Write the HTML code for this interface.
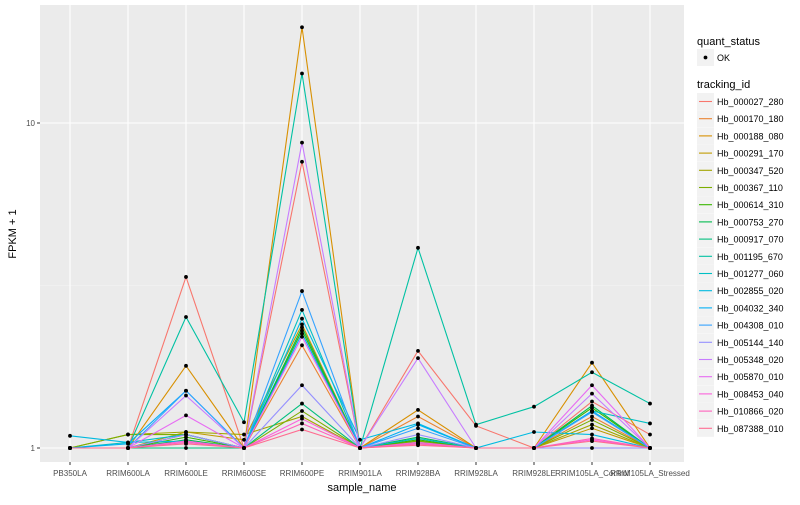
<!DOCTYPE html>
<html><head><meta charset="utf-8"><style>
body{margin:0;background:#fff;font-family:"Liberation Sans",sans-serif}
svg text{font-family:"Liberation Sans",sans-serif}
</style></head><body>
<svg id="chart" width="800" height="500" xmlns="http://www.w3.org/2000/svg">
<rect x="40" y="5" width="644" height="457" fill="#EBEBEB"/>
<g id="grid"></g><g id="lines"></g><g id="points"></g><g id="axes"></g><g id="legend"></g>
<text x="362" y="491" font-size="11" text-anchor="middle" fill="#000">sample_name</text>
<text x="16" y="234" font-size="11" text-anchor="middle" fill="#000" transform="rotate(-90 16 234)">FPKM + 1</text>
</svg>
<script>
const categories=["PB350LA","RRIM600LA","RRIM600LE","RRIM600SE","RRIM600PE","RRIM901LA","RRIM928BA","RRIM928LA","RRIM928LE","RRIM105LA_Control","RRIM105LA_Stressed"];
const seriesNames=["Hb_000027_280","Hb_000170_180","Hb_000188_080","Hb_000291_170","Hb_000347_520","Hb_000367_110","Hb_000614_310","Hb_000753_270","Hb_000917_070","Hb_001195_670","Hb_001277_060","Hb_002855_020","Hb_004032_340","Hb_004308_010","Hb_005144_140","Hb_005348_020","Hb_005870_010","Hb_008453_040","Hb_010866_020","Hb_087388_010"];
const colors=["#F8766D","#EA8331","#D89000","#C09B00","#A3A500","#7CAE00","#39B600","#00BB4E","#00BF7D","#00C1A3","#00BFC4","#00BAE0","#00B0F6","#35A2FF","#9590FF","#C77CFF","#E76BF3","#FA62DB","#FF62BC","#FF6C91"];
const s01=[1,1,3.36,1,7.6,1,1.99,1.17,1,1.39,1.10];
const s02=[1,1,1.1,1,2.07,1,1.25,1,1,1.25,1];
const s03=[1,1,1.79,1,19.7,1,1.31,1,1,1.83,1];
const s04=[1,1,1.12,1.06,2.4,1,1.05,1,1,1.15,1];
const s05=[1,1.10,1.12,1.10,1.25,1,1.03,1,1,1.18,1];
const s06=[1,1.1,1.1,1,1.3,1,1.05,1,1,1.22,1];
const s07=[1,1,1.08,1,2.3,1,1.06,1,1,1.33,1];
const s08=[1,1,1.06,1,2.35,1,1.08,1,1,1.35,1];
const s09=[1,1,1,1,1.37,1,1.04,1,1,1.3,1];
const s10=[1,1,2.53,1.2,14.2,1,4.13,1.18,1.34,1.71,1.37];
const s11=[1,1.04,1.1,1,2.66,1,1.07,1,1,1.3,1.19];
const s12=[1.09,1.04,1.05,1,2.5,1.06,1.19,1,1.12,1.10,1];
const s13=[1,1.03,1.5,1,2.25,1,1.18,1,1,1.30,1];
const s14=[1,1,1.5,1,3.04,1,1.15,1,1,1.29,1];
const s15=[1,1,1.1,1,1.56,1,1.1,1,1,1,1];
const s16=[1,1,1.45,1,8.7,1,1.89,1,1,1.47,1];
const s17=[1,1,1.26,1,2.2,1,1.03,1,1,1.56,1];
const s18=[1,1,1.05,1,1.23,1,1.04,1,1,1.06,1];
const s19=[1,1,1.04,1,1.19,1,1.03,1,1,1.07,1];
const s20=[1,1,1.03,1,1.14,1,1.02,1,1,1.05,1];
const seriesValues=[s01,s02,s03,s04,s05,s06,s07,s08,s09,s10,s11,s12,s13,s14,s15,s16,s17,s18,s19,s20];
const yTicks=[1,10];
const yTickLabels=["1","10"];
const NS="http://www.w3.org/2000/svg";
function xs(i){return 70+i*58;}
function ys(v){return 448-325*Math.log10(v);}
function mk(tag,attrs,parent){const e=document.createElementNS(NS,tag);for(const k in attrs)e.setAttribute(k,attrs[k]);parent.appendChild(e);return e;}
const grid=document.getElementById('grid'),lines=document.getElementById('lines'),pts=document.getElementById('points'),axes=document.getElementById('axes'),leg=document.getElementById('legend');
// minor grid
[0.5,1.5].forEach(p=>{const y=ys(Math.pow(10,p)); if(y>5&&y<462){const l=mk('line',{x1:40,x2:684,y1:y,y2:y,stroke:'#F5F5F5','stroke-width':0.6},grid);

}});
yTicks.forEach((t,i)=>{const y=ys(t);const l=mk('line',{x1:40,x2:684,y1:y,y2:y,stroke:'#fff','stroke-width':1.1},grid);


const tk=mk('line',{x1:37,x2:40,y1:y,y2:y,stroke:'#333','stroke-width':1},axes);


const tx=mk('text',{x:35,y:y+3,'font-size':8,'text-anchor':'end',fill:'#4D4D4D'},axes);tx.textContent=yTickLabels[i];

});
categories.forEach((c,i)=>{const x=xs(i);const l=mk('line',{x1:x,x2:x,y1:5,y2:462,stroke:'#fff','stroke-width':1.1},grid);


const tk=mk('line',{x1:x,x2:x,y1:462,y2:465,stroke:'#333','stroke-width':1},axes);


const tx=mk('text',{x:x,y:476,'font-size':8,'text-anchor':'middle',fill:'#4D4D4D'},axes);tx.textContent=c;

});
seriesValues.forEach((vals,si)=>{const d=vals.map((v,i)=>(i?'L':'M')+xs(i)+','+ys(v)).join(' ');
const p=mk('path',{d:d,fill:'none',stroke:colors[si],'stroke-width':1.1},lines);


vals.forEach((v,i)=>{const c=mk('circle',{cx:xs(i),cy:ys(v),r:1.9,fill:'#000'},pts);

});});
// legend
let t=mk('text',{x:697,y:45,'font-size':11,fill:'#000'},leg);t.textContent='quant_status';


let r=mk('rect',{x:697,y:49,width:17,height:17,fill:'#F2F2F2'},leg);


let c=mk('circle',{cx:705.5,cy:57.5,r:1.9,fill:'#000'},leg);


t=mk('text',{x:717,y:61,'font-size':9,fill:'#000'},leg);t.textContent='OK';


t=mk('text',{x:697,y:88,'font-size':11,fill:'#000'},leg);t.textContent='tracking_id';


seriesNames.forEach((n,i)=>{const y=93+i*17.2;
const g=mk('g',{},leg);


mk('rect',{x:697,y:y,width:17,height:17,fill:'#F2F2F2'},g);
mk('line',{x1:699,x2:712,y1:y+8.5,y2:y+8.5,stroke:colors[i],'stroke-width':1.1},g);
const tx=mk('text',{x:717,y:y+12,'font-size':9,fill:'#000'},g);tx.textContent=n;});
</script>
</body></html>
